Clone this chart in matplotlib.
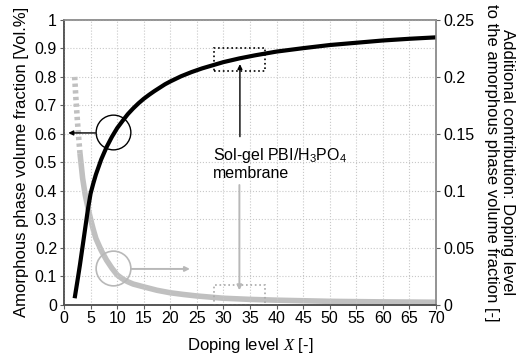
import matplotlib
matplotlib.use("Agg")
import matplotlib.pyplot as plt
import matplotlib.patches as patches
from matplotlib.ticker import FuncFormatter, MultipleLocator

plt.rcParams["font.family"] = ["Liberation Sans", "DejaVu Sans"]
plt.rcParams["mathtext.fontset"] = "custom"
plt.rcParams["mathtext.rm"] = "Liberation Sans"
plt.rcParams["mathtext.it"] = "Liberation Serif:italic"

# Amorphous phase volume fraction (left axis)
doping_black = [2, 2.5, 3, 3.5, 4, 4.5, 5, 5.5, 6, 7, 8, 9, 10, 11, 12, 13,
                14, 15, 16, 17, 18, 19, 20, 22, 24, 26, 28, 30, 33, 36, 40,
                45, 50, 55, 60, 65, 70]
amorphous = [0.022, 0.080, 0.140, 0.205, 0.270, 0.335, 0.390, 0.425, 0.457,
             0.510, 0.553, 0.589, 0.620, 0.645, 0.669, 0.689, 0.707, 0.723,
             0.737, 0.750, 0.762, 0.774, 0.784, 0.802, 0.817, 0.830, 0.841,
             0.852, 0.865, 0.876, 0.889, 0.901, 0.912, 0.920, 0.928, 0.934,
             0.939]

# Additional contribution of doping level (right axis)
doping_gray = [2, 2.25, 2.5, 2.75, 3, 3.5, 4, 4.5, 5, 5.5, 6, 7, 8, 9, 10,
               11, 12, 13, 15, 17.5, 20, 22.5, 25, 30, 35, 40, 50, 60, 70]
contribution = [0.200, 0.180, 0.1625, 0.147, 0.133, 0.111, 0.096, 0.085,
                0.075, 0.066, 0.058, 0.0475, 0.039, 0.032, 0.026, 0.0225,
                0.020, 0.018, 0.0155, 0.0125, 0.0103, 0.0088, 0.0075, 0.0055,
                0.0045, 0.0038, 0.0028, 0.0023, 0.0020]

x_ticks = list(range(0, 71, 5))
fs_tick = 11.5
fs_lab = 12
gray = "#c0c0c0"
n_dotted = 5  # the steep start of the gray series shows as separate squares

fig = plt.figure(figsize=(5.18, 3.61), dpi=100)
ax = fig.add_axes([0.1236, 0.1565, 0.7181, 0.7881])
ax2 = ax.twinx()

# left axes on top so the black curve covers the gray one
ax.set_zorder(ax2.get_zorder() + 1)
ax.patch.set_visible(False)

ax2.plot(doping_gray[:n_dotted], contribution[:n_dotted], color=gray, lw=4,
         linestyle=(0, (0.6, 0.6)), dash_capstyle="butt")
ax2.plot(doping_gray[n_dotted - 1:], contribution[n_dotted - 1:], color=gray,
         lw=4, solid_capstyle="butt")
ax.plot(doping_black, amorphous, color="black", lw=3, solid_capstyle="butt")

ax.set_xlim(0, 70)
ax.set_ylim(0, 1)
ax2.set_ylim(0, 0.25)
ax.set_xticks(x_ticks)
ax.yaxis.set_major_locator(MultipleLocator(0.1))
ax2.yaxis.set_major_locator(MultipleLocator(0.05))
fmt = FuncFormatter(lambda v, p: f"{v:g}")
ax.yaxis.set_major_formatter(fmt)
ax2.yaxis.set_major_formatter(fmt)

ax.grid(True, color="#c8c8c8", linestyle=":", linewidth=0.8)
ax.set_axisbelow(True)

for a in (ax, ax2):
    a.tick_params(labelsize=fs_tick, direction="out", length=3, width=0.8,
                  color="#606060", pad=2)
    for side in ("left", "bottom"):
        a.spines[side].set_color("#505050")
    for side in ("top", "right"):
        a.spines[side].set_color("#909090")
    for s in a.spines.values():
        s.set_linewidth(1.1)

ax.set_xlabel("Doping level $X$ [-]", fontsize=fs_lab)
ax.xaxis.set_label_coords(0.5, -0.11)
ax.set_ylabel("Amorphous phase volume fraction [Vol.%]", fontsize=fs_lab)
ax.yaxis.set_label_coords(-0.094, 0.5)
ax2.set_ylabel("Additional contribution: Doping level\n"
               "to the amorphous phase volume fraction [-]",
               fontsize=fs_lab, rotation=270, linespacing=1.05)
ax2.yaxis.set_label_coords(1.212, 0.5)

# annotations (left axis coordinates)
ax.plot([9.2], [0.605], "o", ms=25, mfc="none", mec="black", mew=1.0)
ax.annotate("", xy=(0.8, 0.603), xytext=(5.9, 0.603),
            arrowprops=dict(arrowstyle="-|>", color="black", lw=1.0,
                            mutation_scale=7, shrinkA=0, shrinkB=0))
ax.plot([9.3], [0.127], "o", ms=25, mfc="none", mec="#b8b8b8", mew=1.2)
ax.annotate("", xy=(23.7, 0.125), xytext=(12.6, 0.125),
            arrowprops=dict(arrowstyle="-|>", color="#b8b8b8", lw=1.4,
                            mutation_scale=7, shrinkA=0, shrinkB=0))

ax.add_patch(patches.Rectangle((28.3, 0.819), 9.5, 0.083, fill=False,
                               edgecolor="black", linestyle=":", lw=1.2))
ax.add_patch(patches.Rectangle((28.3, 0.0), 9.5, 0.068, fill=False,
                               edgecolor="#a8a8a8", linestyle=":", lw=1.2))
ax.annotate("", xy=(33.1, 0.845), xytext=(33.1, 0.59),
            arrowprops=dict(arrowstyle="-|>", color="black", lw=1.0,
                            mutation_scale=7, shrinkA=0, shrinkB=0))
ax.annotate("", xy=(33.0, 0.05), xytext=(33.0, 0.42),
            arrowprops=dict(arrowstyle="-|>", color="#b8b8b8", lw=1.4,
                            mutation_scale=7, shrinkA=0, shrinkB=0))
ax.text(28.1, 0.495, "Sol-gel PBI/H$_3$PO$_4$\nmembrane", fontsize=fs_tick,
        ha="left", va="center", linespacing=1.1)

fig.savefig("out.png", dpi=100)
